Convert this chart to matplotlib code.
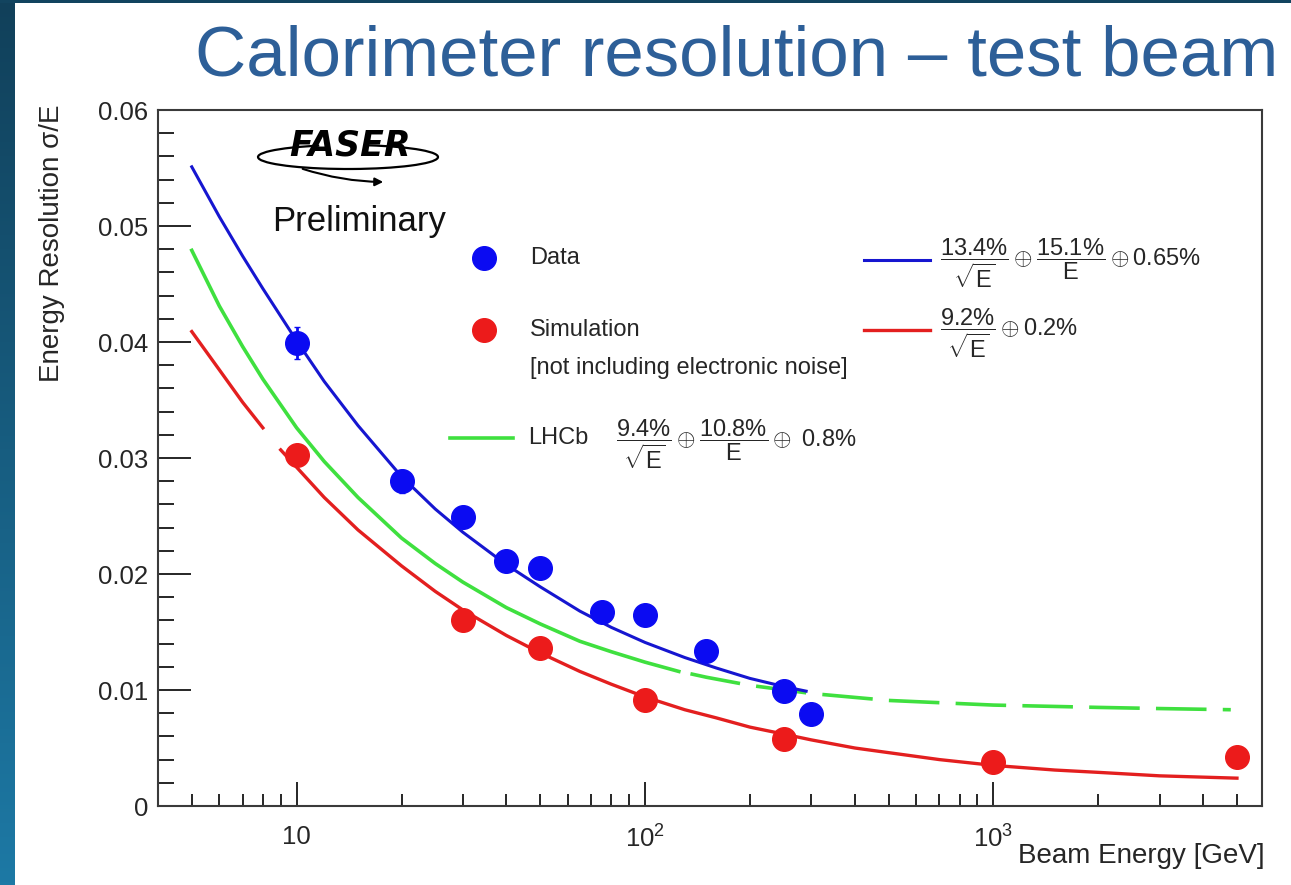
import matplotlib
matplotlib.use("Agg")
import matplotlib.pyplot as plt
import numpy as np
from matplotlib.patches import Arc, FancyArrowPatch
from matplotlib.ticker import MultipleLocator, NullFormatter, LogLocator

plt.rcParams['font.family'] = ['Liberation Sans', 'DejaVu Sans']
plt.rcParams['mathtext.fontset'] = 'custom'
plt.rcParams['mathtext.rm'] = 'Liberation Sans'
plt.rcParams['mathtext.it'] = 'Liberation Sans:italic'
plt.rcParams['mathtext.bf'] = 'Liberation Sans:bold'

#%% values
# test beam data (blue)
data_e = [10, 20, 30, 40, 50, 75, 100, 150, 250, 300]
data_res = [0.0399, 0.0280, 0.0249, 0.0211, 0.0205, 0.0167, 0.0165, 0.0134, 0.0099, 0.0079]
data_err = [0.0014, 0.0010, 0.0005, 0.0005, 0.0005, 0.0004, 0.0004, 0.0004, 0.0004, 0.0004]

# simulation (red)
sim_e = [10, 30, 50, 100, 250, 1000, 5000]
sim_res = [0.0303, 0.0160, 0.0136, 0.0091, 0.0058, 0.0038, 0.0042]

# fit to data (blue line)
fit_data_e = [5, 6, 7, 8, 10, 12, 15, 20, 25, 30, 40, 50, 65, 80, 100, 130, 160, 200, 250, 290]
fit_data_res = [0.0551, 0.0508, 0.0474, 0.0446, 0.0401, 0.0366, 0.0328, 0.0284, 0.0256, 0.0236,
                0.0208, 0.0189, 0.0168, 0.0154, 0.0141, 0.0128, 0.0119, 0.0110, 0.0103, 0.0099]

# fit to simulation (red line)
fit_sim_e = [5, 6, 7, 8, 9, 10, 12, 15, 20, 25, 30, 40, 50, 65, 80, 100, 130, 160, 200, 250,
             300, 400, 500, 700, 1000, 1500, 2000, 3000, 5000]
fit_sim_res = [0.0409, 0.0376, 0.0348, 0.0326, 0.0307, 0.0292, 0.0266, 0.0238, 0.0207, 0.0185,
               0.0169, 0.0147, 0.0132, 0.0116, 0.0105, 0.0094, 0.0083, 0.0076, 0.0068, 0.0062,
               0.0057, 0.0050, 0.0046, 0.0040, 0.0035, 0.0031, 0.0029, 0.0026, 0.0024]

# LHCb reference (green line)
lhcb_e = [5, 6, 7, 8, 10, 12, 15, 20, 25, 30, 40, 50, 65, 80, 100, 125,
          135, 150, 200, 300, 500, 1000, 2000, 3000, 4800]
lhcb_res = [0.0479, 0.0431, 0.0396, 0.0368, 0.0326, 0.0297, 0.0266, 0.0231, 0.0209, 0.0193,
            0.0171, 0.0157, 0.0142, 0.0133, 0.0124, 0.0116,
            0.0114, 0.0111, 0.0104, 0.0097, 0.0091, 0.0087, 0.0085, 0.0084, 0.0083]

x_ticks = [10, 100, 1000]
x_ticklabels = ['10', r'$10^{2}$', r'$10^{3}$']
y_ticks = [0, 0.01, 0.02, 0.03, 0.04, 0.05, 0.06]
y_ticklabels = ['0', '0.01', '0.02', '0.03', '0.04', '0.05', '0.06']

BLUE = '#0b0bf2'
BLUE_LINE = '#1616d0'
RED = '#ec1b1b'
RED_LINE = '#e31f1f'
GREEN = '#3fe03f'
TXT = '#262626'

W, H = 1291, 885


def fx(x):
    return x / W


def fy(y):
    return 1 - y / H


fig = plt.figure(figsize=(W / 100, H / 100), dpi=100)
fig.patch.set_facecolor('white')

# slide background strips
grad = np.linspace(0, 1, 256).reshape(-1, 1)
strip = fig.add_axes([0, 0, fx(15), 1])
strip.imshow(grad, aspect='auto', cmap=matplotlib.colors.LinearSegmentedColormap.from_list(
    'slide', ['#11405a', '#1d79a5']), extent=[0, 1, 0, 1])
strip.axis('off')
top = fig.add_axes([0, fy(3), 1, 3 / H])
top.set_facecolor('#12445f')
top.set_xticks([])
top.set_yticks([])
for s in top.spines.values():
    s.set_visible(False)

fig.text(fx(1278), fy(57), 'Calorimeter resolution \u2013 test beam', ha='right', va='center',
         fontsize=51, color='#2d5f98')

ax = fig.add_axes([fx(158), fy(806), fx(1262) - fx(158), fy(110) - fy(806)])
ax.set_xscale('log')

fit_sim_e = np.array(fit_sim_e)
fit_sim_res = np.array(fit_sim_res)
lhcb_e = np.array(lhcb_e)
lhcb_res = np.array(lhcb_res)

# red fit: one long dash at low energy, then solid
lo = fit_sim_e <= 8
hi = fit_sim_e >= 9
ax.plot(fit_sim_e[lo], fit_sim_res[lo], color=RED_LINE, lw=2.4, zorder=2)
ax.plot(fit_sim_e[hi], fit_sim_res[hi], color=RED_LINE, lw=2.4, zorder=2)

# LHCb: solid, then dashed
solid = lhcb_e <= 125
dashed = lhcb_e >= 135
ax.plot(lhcb_e[solid], lhcb_res[solid], color=GREEN, lw=2.6, zorder=2)
ax.plot(lhcb_e[dashed], lhcb_res[dashed], color=GREEN, lw=2.6, dashes=(14, 4.5), zorder=2)

ax.plot(fit_data_e, fit_data_res, color=BLUE_LINE, lw=2.2, zorder=3)

ax.errorbar(data_e, data_res, yerr=data_err, fmt='o', color=BLUE, ms=17, elinewidth=2,
            capsize=2, zorder=4)
ax.plot(sim_e, sim_res, 'o', color=RED, ms=17, zorder=4)

ax.set_xlim(4, 5900)
ax.set_ylim(0, 0.06)
ax.set_xticks(x_ticks, labels=x_ticklabels)
ax.xaxis.set_minor_locator(LogLocator(base=10, subs=np.arange(2, 10)))
ax.xaxis.set_minor_formatter(NullFormatter())
ax.set_yticks(y_ticks, labels=y_ticklabels)
ax.yaxis.set_minor_locator(MultipleLocator(0.002))

ax.tick_params(which='both', direction='in', top=False, right=False, colors=TXT,
               labelsize=18.5, width=1.4)
ax.tick_params(axis='x', which='major', length=17, pad=14)
ax.tick_params(axis='x', which='minor', length=8.5)
ax.tick_params(axis='y', which='major', length=24, pad=7)
ax.tick_params(axis='y', which='minor', length=11.5)
for s in ax.spines.values():
    s.set_linewidth(1.5)
    s.set_color('#3a3a3a')

fig.text(fx(52), fy(104), 'Energy Resolution \u03c3/E', rotation=90, ha='center', va='top',
         fontsize=20, color=TXT)
fig.text(fx(1265), fy(856), 'Beam Energy [GeV]', ha='right', va='center', fontsize=20, color=TXT)

# FASER logo and preliminary tag
fig.text(fx(350), fy(146), 'FASER', ha='center', va='center', fontsize=25, fontweight='bold',
         style='italic', color='black', family='DejaVu Sans')
fig.patches.append(Arc((fx(348), fy(157)), 180 / W, 24 / H, theta1=150, theta2=400,
                       transform=fig.transFigure, color='black', lw=1.6))
fig.patches.append(FancyArrowPatch((fx(300), fy(168)), (fx(386), fy(182)), transform=fig.transFigure,
                                   arrowstyle='-|>', mutation_scale=12, color='black', lw=1.5,
                                   connectionstyle='arc3,rad=0.08'))
fig.text(fx(272), fy(221), 'Preliminary', ha='left', va='center', fontsize=25, color='#111111')

# legend drawn by hand, as in the original
fig.lines.append(plt.Line2D([fx(484)], [fy(258)], marker='o', ms=17, color=BLUE,
                            transform=fig.transFigure))
fig.text(fx(530), fy(258), 'Data', ha='left', va='center', fontsize=17, color=TXT)
fig.lines.append(plt.Line2D([fx(484)], [fy(330)], marker='o', ms=17, color=RED,
                            transform=fig.transFigure))
fig.text(fx(530), fy(330), 'Simulation', ha='left', va='center', fontsize=17, color=TXT)
fig.text(fx(530), fy(368), '[not including electronic noise]', ha='left', va='center',
         fontsize=17, color=TXT)
fig.lines.append(plt.Line2D([fx(450), fx(513)], [fy(438), fy(438)], color=GREEN, lw=2.6,
                            transform=fig.transFigure))
fig.text(fx(528), fy(438), 'LHCb', ha='left', va='center', fontsize=17, color=TXT)
fig.text(fx(616), fy(444), r'$\dfrac{9.4\%}{\sqrt{\mathrm{E}}}\oplus\dfrac{10.8\%}{\mathrm{E}}\oplus\ 0.8\%$',
         ha='left', va='center', fontsize=17, color=TXT)

fig.lines.append(plt.Line2D([fx(864), fx(930)], [fy(260), fy(260)], color=BLUE_LINE, lw=2.2,
                            transform=fig.transFigure))
fig.text(fx(940), fy(263), r'$\dfrac{13.4\%}{\sqrt{\mathrm{E}}}\oplus\dfrac{15.1\%}{\mathrm{E}}\oplus 0.65\%$',
         ha='left', va='center', fontsize=17, color=TXT)
fig.lines.append(plt.Line2D([fx(864), fx(930)], [fy(330), fy(330)], color=RED_LINE, lw=2.4,
                            transform=fig.transFigure))
fig.text(fx(940), fy(333), r'$\dfrac{9.2\%}{\sqrt{\mathrm{E}}}\oplus 0.2\%$',
         ha='left', va='center', fontsize=17, color=TXT)

fig.savefig('out.png', dpi=100)
